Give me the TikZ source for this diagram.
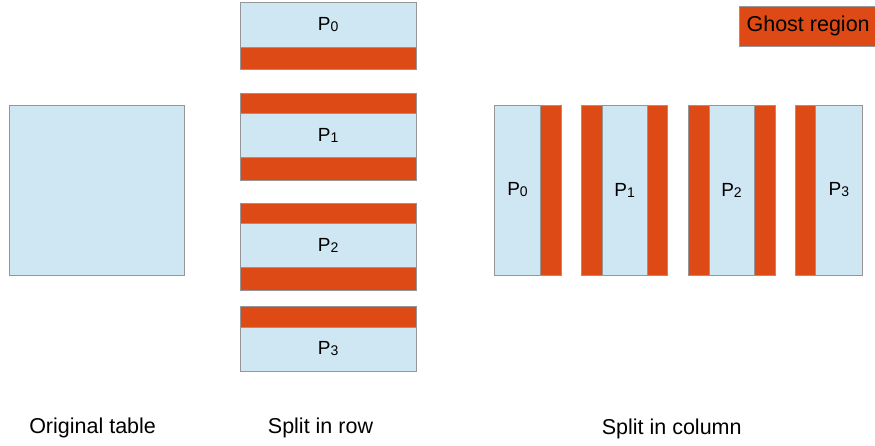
\documentclass[tikz,border=0pt]{standalone}
\usepackage{fontspec}
\setmainfont{Liberation Sans}
\usepackage{tikz}
\definecolor{partblue}{RGB}{207,230,243}
\definecolor{ghostred}{RGB}{222,74,22}
\definecolor{edgegray}{RGB}{150,150,150}
\newcommand{\pn}[1]{P{\fontsize{14}{16}\selectfont\raisebox{-1pt}{#1}}}

\begin{document}
\begin{tikzpicture}[x=1pt, y=-1pt,
  every node/.style={font=\fontsize{21.5}{26}\selectfont},
  part/.style={draw=edgegray, fill=partblue, inner sep=0pt, line width=0.8pt,
    font=\fontsize{19}{23}\selectfont},
  ghost/.style={draw=edgegray, fill=ghostred, inner sep=0pt, line width=0.8pt}]
  \useasboundingbox (0,0) rectangle (875,445);

  % original table
  \node[part, minimum width=175pt, minimum height=170pt] at (96.5, 190) (orig) {};

  % split in row
  \begin{scope}[every node/.append style={minimum width=175.5pt}]
  \node[part,  minimum height=44.5pt] at (328.2, 24.8)  (r0)  {\pn{0}};
  \node[ghost, minimum height=22.5pt] at (328.2, 58.3)  (r0b) {};

  \node[ghost, minimum height=20.5pt] at (328.2, 103.3) (r1a) {};
  \node[part,  minimum height=43.5pt] at (328.2, 135.3) (r1)  {\pn{1}};
  \node[ghost, minimum height=23pt]   at (328.2, 168.5) (r1b) {};

  \node[ghost, minimum height=20.5pt] at (328.2, 213.3) (r2a) {};
  \node[part,  minimum height=44pt]   at (328.2, 245.5) (r2)  {\pn{2}};
  \node[ghost, minimum height=22.5pt] at (328.2, 278.8) (r2b) {};

  \node[ghost, minimum height=20.5pt] at (328.2, 316.8) (r3a) {};
  \node[part,  minimum height=44pt]   at (328.2, 349)   (r3)  {\pn{3}};
  \end{scope}

  % split in column
  \begin{scope}[every node/.append style={minimum height=170pt}]
  \node[part,  minimum width=45.6pt] at (517.5, 190)  (c0)  {\pn{0}};
  \node[ghost, minimum width=20.7pt] at (550.7, 190)  (c0b) {};

  \node[ghost, minimum width=21pt]   at (591.8, 190)  (c1a) {};
  \node[part,  minimum width=44.7pt] at (624.7, 190)  (c1)  {\pn{1}};
  \node[ghost, minimum width=20.7pt] at (657.4, 190)  (c1b) {};

  \node[ghost, minimum width=21pt]   at (698.5, 190)  (c2a) {};
  \node[part,  minimum width=45pt]   at (731.5, 190)  (c2)  {\pn{2}};
  \node[ghost, minimum width=21pt]   at (764.5, 190)  (c2b) {};

  \node[ghost, minimum width=20.7pt] at (805.4, 190)  (c3a) {};
  \node[part,  minimum width=46.3pt] at (838.9, 190)  (c3)  {\pn{3}};
  \end{scope}

  % legend
  \node[ghost, minimum width=138.5pt, minimum height=39.3pt, anchor=west] at (738.5, 26.3) (legend) {Ghost region};

  % captions
  \node[anchor=base] at (92.6, 433)  (capOrig) {Original table};
  \node[anchor=base] at (320.5, 433) (capRow)  {Split in row};
  \node[anchor=base] at (671.7, 434) (capCol)  {Split in column};
\end{tikzpicture}
\end{document}
